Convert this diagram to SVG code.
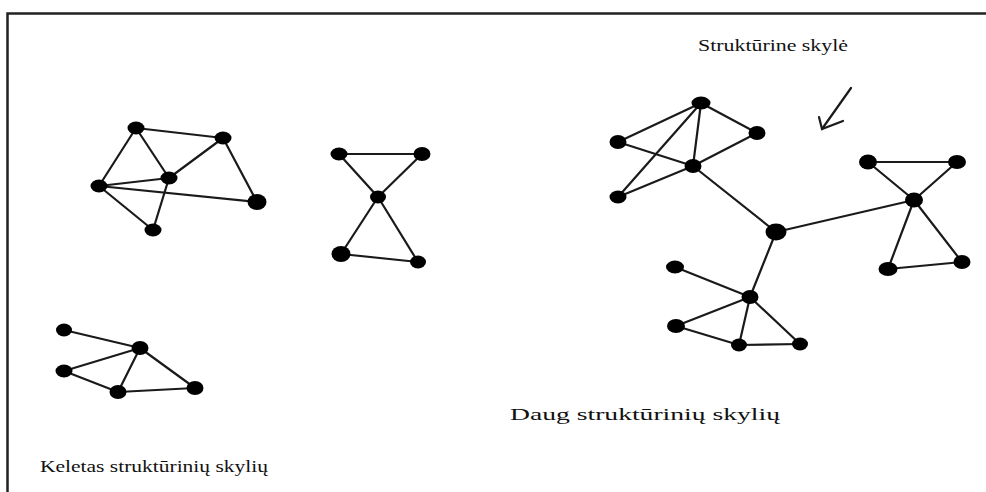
<svg xmlns="http://www.w3.org/2000/svg" width="986" height="492" viewBox="0 0 986 492">
<style>
.e{stroke:#1a1a1a;stroke-width:2.2;fill:none;stroke-linecap:round}
.n{fill:#000}
.t{font-family:"Liberation Serif","DejaVu Serif",serif;font-size:16px;fill:#111}
</style>
<rect x="0" y="0" width="986" height="492" fill="#fff"/>
<path d="M7.5,500 V13.5 H990" fill="none" stroke="#222" stroke-width="2.5"/>
<g id="connectors" class="e">
<line x1="136" y1="128" x2="223" y2="138"/>
<line x1="136" y1="128" x2="99" y2="186"/>
<line x1="136" y1="128" x2="169" y2="178"/>
<line x1="223" y1="138" x2="169" y2="178"/>
<line x1="223" y1="138" x2="257" y2="202"/>
<line x1="99" y1="186" x2="169" y2="178"/>
<line x1="99" y1="186" x2="257" y2="202"/>
<line x1="99" y1="186" x2="153" y2="230"/>
<line x1="169" y1="178" x2="153" y2="230"/>
<line x1="339" y1="154" x2="422" y2="154"/>
<line x1="339" y1="154" x2="378" y2="197"/>
<line x1="378" y1="197" x2="418" y2="262"/>
<line x1="422" y1="154" x2="378" y2="197"/>
<line x1="378" y1="197" x2="341" y2="254"/>
<line x1="341" y1="254" x2="418" y2="262"/>
<line x1="64" y1="330" x2="140" y2="348"/>
<line x1="140" y1="348" x2="64" y2="371"/>
<line x1="140" y1="348" x2="118" y2="392"/>
<line x1="140" y1="348" x2="195" y2="388"/>
<line x1="64" y1="371" x2="118" y2="392"/>
<line x1="118" y1="392" x2="195" y2="388"/>
<line x1="701" y1="103" x2="618" y2="142"/>
<line x1="701" y1="103" x2="618" y2="197"/>
<line x1="701" y1="103" x2="693" y2="166"/>
<line x1="701" y1="103" x2="757" y2="133"/>
<line x1="618" y1="142" x2="693" y2="166"/>
<line x1="757" y1="133" x2="693" y2="166"/>
<line x1="618" y1="197" x2="693" y2="166"/>
<line x1="693" y1="166" x2="776" y2="232"/>
<line x1="776" y1="232" x2="914" y2="200"/>
<line x1="776" y1="232" x2="750" y2="297"/>
<line x1="675" y1="267" x2="750" y2="297"/>
<line x1="750" y1="297" x2="676" y2="326"/>
<line x1="750" y1="297" x2="739" y2="345"/>
<line x1="750" y1="297" x2="800" y2="344"/>
<line x1="676" y1="326" x2="739" y2="345"/>
<line x1="739" y1="345" x2="800" y2="344"/>
<line x1="868" y1="162" x2="957" y2="162"/>
<line x1="868" y1="162" x2="914" y2="200"/>
<line x1="957" y1="162" x2="914" y2="200"/>
<line x1="914" y1="200" x2="888" y2="269"/>
<line x1="914" y1="200" x2="962" y2="262"/>
<line x1="888" y1="269" x2="962" y2="262"/>
</g>
<g id="arrow" class="e" stroke-width="1.5">
<line x1="851" y1="88" x2="822" y2="129"/>
<polyline points="819,117 822,129 843,121"/>
</g>
<g id="g1a"><ellipse class="n" cx="136" cy="128" rx="8.5" ry="6.5"/></g>
<g id="g1b"><ellipse class="n" cx="223" cy="138" rx="8.5" ry="6.5"/></g>
<g id="g1c"><ellipse class="n" cx="169" cy="178" rx="8.5" ry="6.5"/></g>
<g id="g1d"><ellipse class="n" cx="99" cy="186" rx="8.5" ry="6.5"/></g>
<g id="g1e"><ellipse class="n" cx="257" cy="202" rx="9.5" ry="8"/></g>
<g id="g1f"><ellipse class="n" cx="153" cy="230" rx="8.5" ry="6.5"/></g>
<g id="g2a"><ellipse class="n" cx="339" cy="154" rx="8.5" ry="6.5"/></g>
<g id="g2b"><ellipse class="n" cx="422" cy="154" rx="8.5" ry="7"/></g>
<g id="g2c"><ellipse class="n" cx="378" cy="197" rx="8" ry="6.5"/></g>
<g id="g2d"><ellipse class="n" cx="341" cy="254" rx="9.5" ry="8"/></g>
<g id="g2e"><ellipse class="n" cx="418" cy="262" rx="8" ry="6.5"/></g>
<g id="g3a"><ellipse class="n" cx="64" cy="330" rx="8" ry="6.5"/></g>
<g id="g3b"><ellipse class="n" cx="140" cy="348" rx="8.5" ry="7"/></g>
<g id="g3c"><ellipse class="n" cx="64" cy="371" rx="8.5" ry="6.5"/></g>
<g id="g3d"><ellipse class="n" cx="118" cy="392" rx="8.5" ry="7"/></g>
<g id="g3e"><ellipse class="n" cx="195" cy="388" rx="8.5" ry="7"/></g>
<g id="g4a"><ellipse class="n" cx="701" cy="103" rx="9.5" ry="6.5"/></g>
<g id="g4b"><ellipse class="n" cx="618" cy="142" rx="8.5" ry="7"/></g>
<g id="g4c"><ellipse class="n" cx="757" cy="133" rx="8.5" ry="7"/></g>
<g id="g4d"><ellipse class="n" cx="693" cy="166" rx="8.5" ry="7"/></g>
<g id="g4e"><ellipse class="n" cx="618" cy="197" rx="8.5" ry="6.5"/></g>
<g id="hub"><ellipse class="n" cx="776" cy="232" rx="10.5" ry="8.5"/></g>
<g id="g5a"><ellipse class="n" cx="675" cy="267" rx="9" ry="6.5"/></g>
<g id="g5b"><ellipse class="n" cx="750" cy="297" rx="8.5" ry="7"/></g>
<g id="g5c"><ellipse class="n" cx="676" cy="326" rx="9" ry="7"/></g>
<g id="g5d"><ellipse class="n" cx="739" cy="345" rx="8" ry="6.5"/></g>
<g id="g5e"><ellipse class="n" cx="800" cy="344" rx="8" ry="6.5"/></g>
<g id="g6a"><ellipse class="n" cx="868" cy="162" rx="9" ry="7.5"/></g>
<g id="g6b"><ellipse class="n" cx="957" cy="162" rx="9" ry="7"/></g>
<g id="g6c"><ellipse class="n" cx="914" cy="200" rx="9" ry="7.5"/></g>
<g id="g6d"><ellipse class="n" cx="888" cy="269" rx="9.5" ry="7"/></g>
<g id="g6e"><ellipse class="n" cx="962" cy="262" rx="8.5" ry="7"/></g>
<g id="labels">
<text class="t" x="698" y="51" textLength="150" lengthAdjust="spacingAndGlyphs">Struktūrine skylė</text>
<text class="t" x="510" y="420" textLength="270" lengthAdjust="spacingAndGlyphs">Daug struktūrinių skylių</text>
<text class="t" x="40" y="472" textLength="228" lengthAdjust="spacingAndGlyphs">Keletas struktūrinių skylių</text>
</g>
</svg>
